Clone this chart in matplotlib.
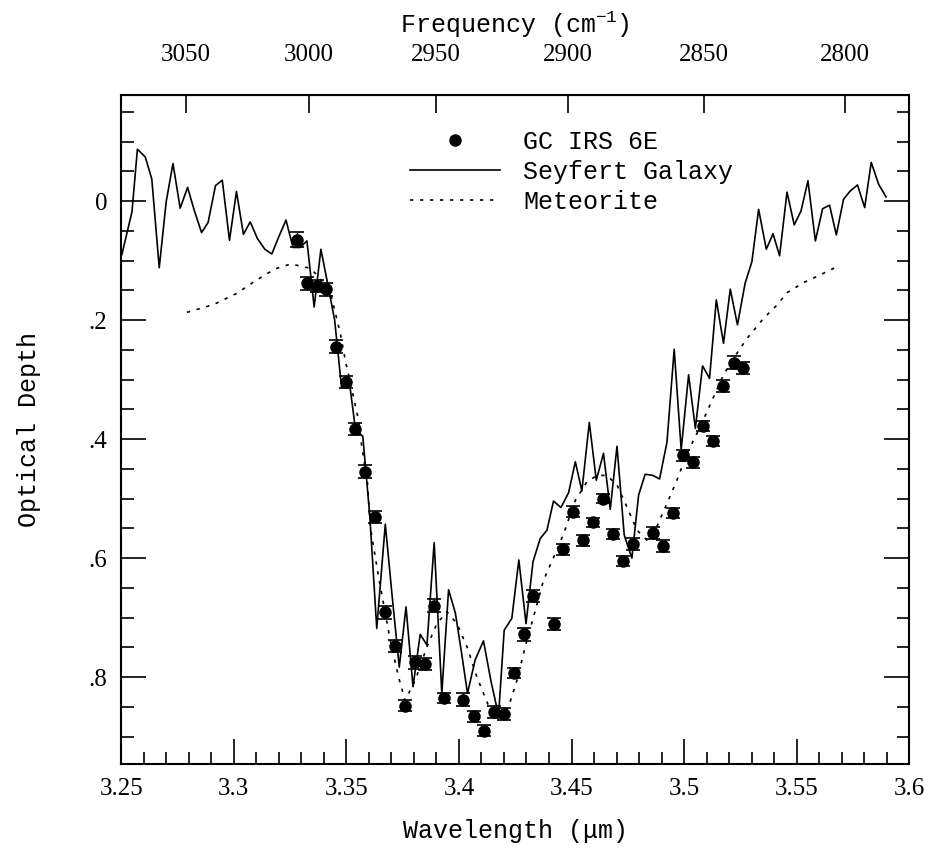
import numpy as np
import matplotlib
matplotlib.use('Agg')
from matplotlib import pyplot as plt
from matplotlib.ticker import MultipleLocator, FuncFormatter
from matplotlib.lines import Line2D

# GC IRS 6E absorption points
gc_wave = [3.3280, 3.3326, 3.3370, 3.3410, 3.3455, 3.3500, 3.3540, 3.3584, 3.3628,
           3.3673, 3.3717, 3.3760, 3.3806, 3.3850, 3.3890, 3.3935, 3.4020, 3.4068,
           3.4113, 3.4157, 3.4201, 3.4246, 3.4290, 3.4330, 3.4424, 3.4464, 3.4508,
           3.4552, 3.4597, 3.4640, 3.4686, 3.4730, 3.4775, 3.4863, 3.4908, 3.4952,
           3.4997, 3.5040, 3.5086, 3.5130, 3.5174, 3.5220, 3.5263]
gc_tau = [0.065, 0.138, 0.143, 0.148, 0.245, 0.304, 0.383, 0.455, 0.531,
          0.691, 0.748, 0.848, 0.775, 0.778, 0.680, 0.835, 0.838, 0.866,
          0.890, 0.858, 0.862, 0.793, 0.728, 0.663, 0.711, 0.585, 0.522,
          0.570, 0.540, 0.500, 0.559, 0.605, 0.576, 0.558, 0.580, 0.524,
          0.427, 0.439, 0.378, 0.403, 0.310, 0.272, 0.281]
gc_err = [0.013, 0.011, 0.010, 0.011, 0.011, 0.010, 0.010, 0.011, 0.010,
          0.011, 0.010, 0.009, 0.011, 0.010, 0.011, 0.009, 0.011, 0.009,
          0.009, 0.010, 0.010, 0.009, 0.011, 0.010, 0.010, 0.009, 0.009,
          0.009, 0.008, 0.008, 0.008, 0.008, 0.010, 0.010, 0.010, 0.008,
          0.009, 0.009, 0.009, 0.008, 0.010, 0.011, 0.010]

# Seyfert galaxy spectrum
sey_wave = [3.2503, 3.2548, 3.2572, 3.2607, 3.2636, 3.2669, 3.2700, 3.2730, 3.2762,
            3.2795, 3.2824, 3.2857, 3.2886, 3.2919, 3.2949, 3.2981, 3.3012, 3.3043,
            3.3073, 3.3105, 3.3138, 3.3169, 3.3200, 3.3232, 3.3263, 3.3295, 3.3325,
            3.3357, 3.3387, 3.3416, 3.3448, 3.3479, 3.3510, 3.3542, 3.3573, 3.3604,
            3.3635, 3.3673, 3.3704, 3.3735, 3.3765, 3.3796, 3.3828, 3.3858, 3.3890,
            3.3924, 3.3954, 3.3984, 3.4010, 3.4038, 3.4072, 3.4109, 3.4143, 3.4176,
            3.4201, 3.4235, 3.4266, 3.4298, 3.4329, 3.4361, 3.4391, 3.4420, 3.4453,
            3.4487, 3.4517, 3.4546, 3.4579, 3.4610, 3.4642, 3.4672, 3.4702, 3.4734,
            3.4768, 3.4798, 3.4827, 3.4862, 3.4891, 3.4924, 3.4956, 3.4987, 3.5020,
            3.5050, 3.5082, 3.5113, 3.5143, 3.5175, 3.5205, 3.5237, 3.5271, 3.5301,
            3.5331, 3.5365, 3.5395, 3.5424, 3.5457, 3.5489, 3.5519, 3.5550, 3.5583,
            3.5615, 3.5646, 3.5676, 3.5708, 3.5738, 3.5770, 3.5802, 3.5831, 3.5864,
            3.5897]
sey_tau = [0.090, 0.018, -0.087, -0.074, -0.037, 0.112, 0.001, -0.063, 0.012,
           -0.023, 0.015, 0.053, 0.036, -0.026, -0.035, 0.066, -0.016, 0.056,
           0.035, 0.063, 0.081, 0.089, 0.060, 0.032, 0.078, 0.078, 0.067,
           0.178, 0.081, 0.137, 0.200, 0.314, 0.294, 0.388, 0.395, 0.528,
           0.718, 0.543, 0.666, 0.783, 0.682, 0.816, 0.728, 0.746, 0.574,
           0.827, 0.653, 0.692, 0.755, 0.827, 0.771, 0.739, 0.808, 0.864,
           0.721, 0.701, 0.603, 0.710, 0.606, 0.567, 0.553, 0.504, 0.515,
           0.490, 0.438, 0.487, 0.372, 0.469, 0.424, 0.518, 0.412, 0.561,
           0.600, 0.494, 0.459, 0.461, 0.467, 0.405, 0.249, 0.418, 0.292,
           0.382, 0.277, 0.298, 0.166, 0.239, 0.148, 0.208, 0.138, 0.102,
           0.014, 0.081, 0.055, 0.092, -0.015, 0.040, 0.017, -0.034, 0.067,
           0.013, 0.007, 0.057, -0.003, -0.017, -0.027, 0.011, -0.065, -0.028,
           -0.007]

# Meteorite spectrum
met_wave = [3.2792, 3.2910, 3.3014, 3.3088, 3.3147, 3.3192, 3.3251, 3.3295, 3.3339,
            3.3369, 3.3428, 3.3473, 3.3495, 3.3525, 3.3554, 3.3569, 3.3594, 3.3606,
            3.3643, 3.3695, 3.3732, 3.3761, 3.3806, 3.3858, 3.3902, 3.3947, 3.3991,
            3.4036, 3.4080, 3.4139, 3.4183, 3.4220, 3.4258, 3.4294, 3.4331, 3.4376,
            3.4428, 3.4465, 3.4517, 3.4568, 3.4613, 3.4657, 3.4702, 3.4746, 3.4791,
            3.4835, 3.4879, 3.4924, 3.4968, 3.5013, 3.5072, 3.5131, 3.5175, 3.5220,
            3.5279, 3.5353, 3.5412, 3.5457, 3.5531, 3.5605, 3.5686]
met_tau = [0.187, 0.174, 0.155, 0.136, 0.122, 0.113, 0.106, 0.109, 0.113,
           0.124, 0.152, 0.222, 0.267, 0.318, 0.368, 0.413, 0.474, 0.547,
           0.631, 0.738, 0.800, 0.839, 0.805, 0.749, 0.710, 0.690, 0.710,
           0.749, 0.800, 0.855, 0.867, 0.850, 0.805, 0.749, 0.699, 0.637,
           0.592, 0.559, 0.503, 0.472, 0.461, 0.461, 0.477, 0.514, 0.553,
           0.570, 0.547, 0.508, 0.469, 0.424, 0.379, 0.329, 0.292, 0.264,
           0.231, 0.197, 0.175, 0.154, 0.137, 0.124, 0.109]

freq_ticks = [3050, 3000, 2950, 2900, 2850, 2800]

plt.rcParams['mathtext.fontset'] = 'custom'
plt.rcParams['mathtext.rm'] = 'Liberation Mono'
plt.rcParams['mathtext.it'] = 'Liberation Mono'

label_font = {'family': 'Liberation Mono', 'size': 18}
tick_font = 'Liberation Serif'

fig = plt.figure(figsize=(9.25, 8.49), dpi=100)
ax = fig.add_axes([0.131, 0.100, 0.852, 0.788])

ax.plot(sey_wave, sey_tau, color='black', lw=1.2, label='Seyfert Galaxy')
ax.plot(met_wave, met_tau, color='black', lw=1.2, dashes=(2, 4), label='Meteorite')
ax.errorbar(gc_wave, gc_tau, yerr=gc_err, fmt='o', color='black', ms=8,
            elinewidth=1.0, capsize=5, capthick=1.2)

ax.set_xlim(3.25, 3.6)
ax.set_ylim(0.946, -0.178)

ax.xaxis.set_major_locator(MultipleLocator(0.05))
ax.xaxis.set_minor_locator(MultipleLocator(0.01))
ax.yaxis.set_major_locator(MultipleLocator(0.2))
ax.yaxis.set_minor_locator(MultipleLocator(0.05))
ax.xaxis.set_major_formatter(FuncFormatter(lambda v, p: ('%g' % round(v, 3))))
ax.yaxis.set_major_formatter(FuncFormatter(
    lambda v, p: '0' if abs(v) < 1e-9 else ('%.1f' % v).replace('0.', '.')))

ax.tick_params(which='both', direction='in', top=False, right=True,
               width=1.2, labelsize=18, pad=10)
ax.tick_params(which='major', length=18)
ax.tick_params(which='minor', length=9)
for lab in ax.get_xticklabels() + ax.get_yticklabels():
    lab.set_family(tick_font)
for sp in ax.spines.values():
    sp.set_linewidth(1.5)


def wl_to_freq(x):
    x = np.asarray(x, dtype=float)
    with np.errstate(divide='ignore'):
        return 1e4 / x


sec = ax.secondary_xaxis('top', functions=(wl_to_freq, wl_to_freq))
sec.set_xticks(freq_ticks)
sec.tick_params(direction='in', length=13, width=1.2, labelsize=18, pad=21)
for lab in sec.get_xticklabels():
    lab.set_family(tick_font)
sec.set_xlabel('Frequency (cm$^{-1}$)', fontdict=label_font, labelpad=8)

ax.set_xlabel('Wavelength (\u03bcm)', fontdict=label_font, labelpad=14)
ax.set_ylabel('Optical Depth', fontdict=label_font, labelpad=34)

handles = [Line2D([], [], ls='none', marker='o', color='black', ms=8),
           Line2D([], [], color='black', lw=1.2),
           Line2D([], [], color='black', lw=1.2, dashes=(2, 4))]
ax.legend(handles, ['GC IRS 6E', 'Seyfert Galaxy', 'Meteorite'],
          loc='upper left', bbox_to_anchor=(0.367, 0.948), frameon=False,
          prop={'family': 'Liberation Mono', 'size': 18},
          handlelength=3.6, handletextpad=0.9, labelspacing=0.24,
          borderpad=0, borderaxespad=0)

fig.savefig('out.png', dpi=100)
